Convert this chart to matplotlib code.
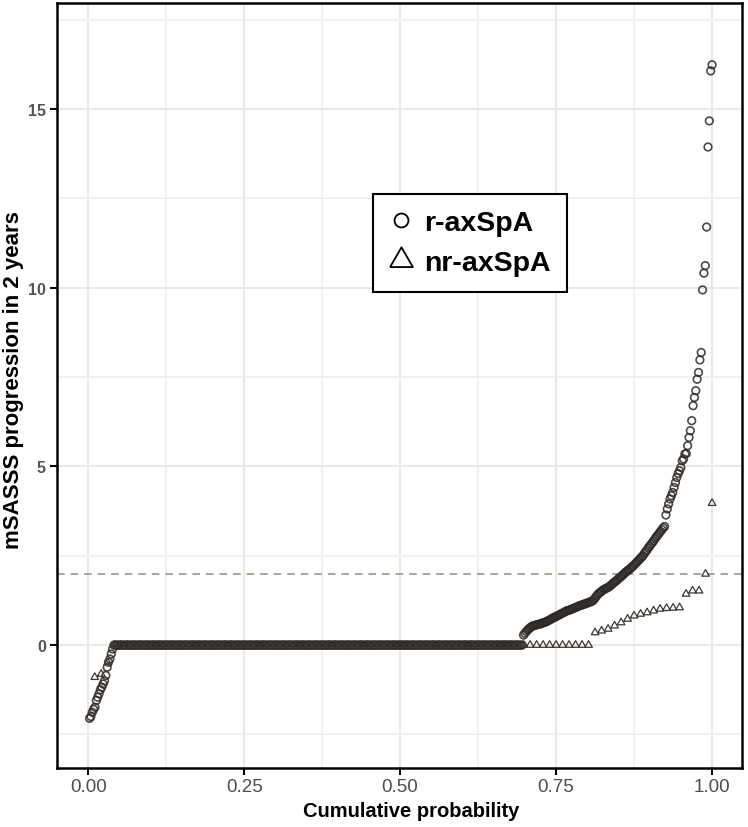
import numpy as np
import matplotlib.pyplot as plt
from matplotlib.lines import Line2D

# mSASSS progression in 2 years, sorted
# r-axSpA (circles)
r_neg = [-2.05, -2.0, -1.88, -1.80, -1.74, -1.55, -1.46, -1.36, -1.25,
         -1.18, -1.09, -1.0, -0.85, -0.62, -0.48, -0.39, -0.25, -0.11]
r_zero_count = 302
r_pos = [0.28, 0.33, 0.38, 0.42, 0.46, 0.49, 0.52, 0.54,
         0.55, 0.56, 0.57, 0.58, 0.59, 0.60, 0.62, 0.63,
         0.64, 0.66, 0.68, 0.70, 0.72, 0.74, 0.77,
         0.78, 0.80, 0.82, 0.84, 0.86, 0.88, 0.90, 0.92, 0.94, 0.96,
         0.97, 0.98, 1.00, 1.01, 1.03, 1.05, 1.06, 1.08, 1.10,
         1.11, 1.12, 1.14, 1.15, 1.16, 1.18, 1.19, 1.21, 1.22, 1.24,
         1.28, 1.33, 1.38, 1.43, 1.46, 1.49, 1.52, 1.55, 1.57, 1.59, 1.61, 1.63, 1.66,
         1.69, 1.73, 1.76, 1.79, 1.82, 1.86, 1.89,
         1.92, 1.96, 1.99, 2.03, 2.06, 2.09, 2.12, 2.15, 2.19, 2.22,
         2.26, 2.30, 2.34, 2.38, 2.42, 2.46, 2.50,
         2.56, 2.61, 2.66, 2.72, 2.77, 2.82, 2.87, 2.92,
         2.98, 3.03, 3.08, 3.13, 3.18, 3.23, 3.28, 3.32,
         3.64, 3.81, 3.95, 4.09, 4.18, 4.27, 4.41, 4.55, 4.69, 4.80,
         4.88, 4.97, 5.16, 5.21, 5.35, 5.36, 5.58, 5.81, 6.00, 6.28,
         6.70, 6.93, 7.12, 7.44, 7.63, 7.98, 8.19, 9.94, 10.41, 10.62,
         11.70, 13.94, 14.67, 16.07, 16.24]

# nr-axSpA (triangles)
nr_neg = [-0.90, -0.81, -0.49]
nr_zero_count = 74
nr_pos = [0.35, 0.40, 0.45, 0.54, 0.63, 0.73, 0.82, 0.87, 0.91, 0.96,
          1.01, 1.03, 1.04, 1.05, 1.43, 1.52, 1.52, 1.99, 3.97]

threshold = 2

r_vals = np.array(r_neg + [0.0] * r_zero_count + r_pos)
nr_vals = np.array(nr_neg + [0.0] * nr_zero_count + nr_pos)

#cumulative probability = rank / n
r_p = np.arange(1, len(r_vals) + 1) / len(r_vals)
nr_p = np.arange(1, len(nr_vals) + 1) / len(nr_vals)

#equilateral triangle like ggplot shape 2
tri = [(-1, -0.577), (1, -0.577), (0, 1.155), (-1, -0.577)]

fig = plt.figure(figsize=(7.48, 8.28), dpi=100)
ax = fig.add_axes([57 / 748, 59 / 828, 685 / 748, 765 / 828])

ax.set_xlim(-0.05, 1.048)
ax.set_ylim(-3.44, 17.97)

ax.set_xticks([0, 0.25, 0.5, 0.75, 1.0])
ax.set_xticks([0.125, 0.375, 0.625, 0.875], minor=True)
ax.set_yticks([0, 5, 10, 15])
ax.set_yticks([-2.5, 2.5, 7.5, 12.5, 17.5], minor=True)
ax.grid(True, which='major', color='#ebe7e2', linewidth=1.4)
ax.grid(True, which='minor', color='#f0ede9', linewidth=1.2)
ax.set_axisbelow(True)

ax.axhline(threshold, color='#a69d93', linewidth=1.3, dashes=(4.2, 3.3), zorder=1)

ax.scatter(r_p, r_vals, s=30, facecolors='none', edgecolors='#2e2925',
           linewidths=1.2, alpha=0.85, zorder=3)
ax.scatter(nr_p, nr_vals, s=40, marker=tri, facecolors='none', edgecolors='#3b3733',
           linewidths=0.9, zorder=4)

ax.set_xticklabels(['0.00', '0.25', '0.50', '0.75', '1.00'])
for s in ax.spines.values():
    s.set_linewidth(1.8)
    s.set_color('black')
ax.tick_params(which='major', length=5, width=1.5, color='black')
ax.tick_params(axis='x', pad=2)
ax.tick_params(axis='y', pad=3)
ax.tick_params(which='minor', length=0)
for lab in ax.get_xticklabels():
    lab.set_family('Liberation Sans')
    lab.set_fontsize(13.5)
    lab.set_color('#4d4d4d')
for lab in ax.get_yticklabels():
    lab.set_family('Liberation Sans')
    lab.set_fontsize(11.5)
    lab.set_fontweight('bold')
    lab.set_color('#555555')

fig.text(411 / 748, 1 - 812 / 828, 'Cumulative probability', family='Liberation Sans',
         fontsize=14.5, fontweight='bold', ha='center', va='center')
fig.text(14 / 748, 1 - 380 / 828, 'mSASSS progression in 2 years', family='Liberation Sans',
         fontsize=16, fontweight='bold', ha='center', va='center', rotation=90)

handles = [Line2D([], [], marker='o', linestyle='none', markersize=10, markerfacecolor='none',
                  markeredgecolor='black', markeredgewidth=1.3),
           Line2D([], [], marker=tri, linestyle='none', markersize=19, markerfacecolor='none',
                  markeredgecolor='black', markeredgewidth=1.3)]
leg = ax.legend(handles, ['r-axSpA', 'nr-axSpA'], loc='upper left',
                bbox_to_anchor=(373 / 748, 1 - 195 / 828), bbox_transform=fig.transFigure,
                borderaxespad=0, fancybox=False, framealpha=1, edgecolor='black',
                prop={'family': 'Liberation Sans', 'weight': 'bold', 'size': 20.5},
                handletextpad=0.4, handlelength=0.86, labelspacing=0.5, borderpad=0.55)
leg.get_frame().set_linewidth(1.5)

fig.savefig('out.png', dpi=100)
